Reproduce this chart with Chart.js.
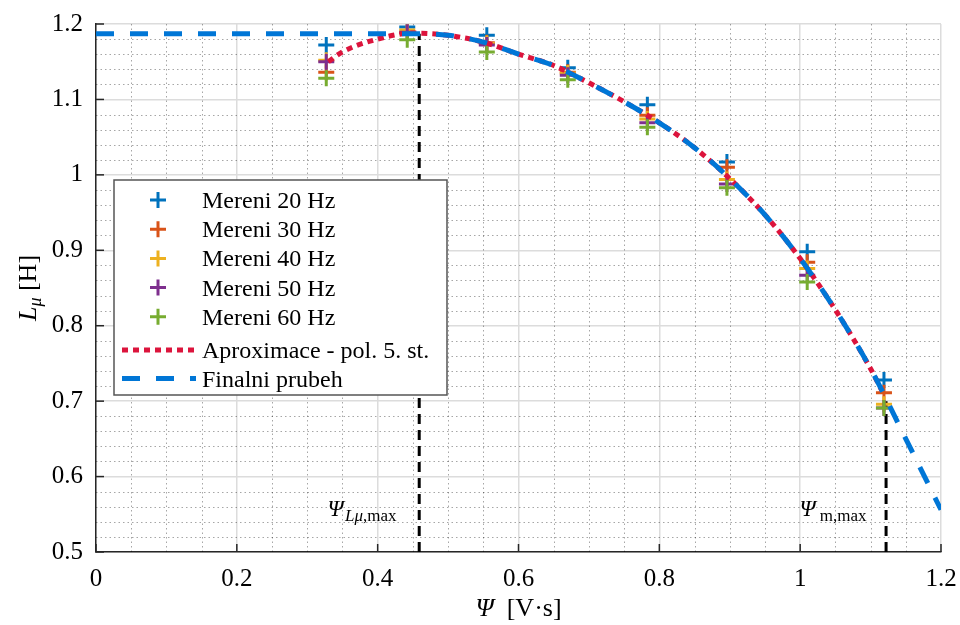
<!DOCTYPE html>
<html lang="cs">

<head>
    <meta charset="UTF-8" />
    <title>L_mu v zavislosti na Psi</title>
    <script src="https://cdn.jsdelivr.net/npm/chart.js"></script>
    <style>
        body { margin: 0; background: #fff; }
        #box { width: 960px; height: 625px; position: relative; }
    </style>
</head>

<body>
    <div id="box"><canvas id="graf"></canvas></div>

    <script>
        // namerene body (Psi v V.s, L_mu v H)
        const psiMereni = [0.327, 0.442, 0.555, 0.670, 0.783, 0.896, 1.010, 1.119];
        const L20 = [1.172, 1.196, 1.185, 1.142, 1.093, 1.017, 0.898, 0.728];
        const L30 = [1.136, 1.188, 1.175, 1.136, 1.079, 1.010, 0.884, 0.711];
        const L40 = [1.152, 1.192, 1.174, 1.135, 1.074, 0.994, 0.876, 0.696];
        const L50 = [1.150, 1.189, 1.172, 1.132, 1.069, 0.988, 0.867, 0.691];
        const L60 = [1.128, 1.179, 1.163, 1.126, 1.063, 0.983, 0.858, 0.691];

        // aproximace polynomem 5. stupne
        const psiAprox = [0.330, 0.35, 0.40, 0.45, 0.50, 0.55, 0.60, 0.65, 0.70, 0.75, 0.80, 0.85, 0.90, 0.95, 1.00, 1.05, 1.10, 1.116];
        const LAprox = [1.150, 1.163, 1.180, 1.188, 1.185, 1.176, 1.160, 1.145, 1.122, 1.097, 1.069, 1.036, 0.995, 0.947, 0.889, 0.821, 0.743, 0.714];

        // finalni prubeh
        const psiFinal = [0, 0.459, 0.50, 0.55, 0.60, 0.65, 0.70, 0.75, 0.80, 0.85, 0.90, 0.95, 1.00, 1.05, 1.10, 1.15, 1.20];
        const LFinal = [1.187, 1.187, 1.185, 1.176, 1.160, 1.145, 1.122, 1.097, 1.069, 1.036, 0.995, 0.947, 0.889, 0.821, 0.743, 0.650, 0.556];

        // svisle znacky
        const psiLmax = 0.459;
        const LLmax = 1.187;
        const psiMmax = 1.122;
        const LMmax = 0.70;

        const xTicks = [0, 0.2, 0.4, 0.6, 0.8, 1, 1.2];
        const yTicks = [0.5, 0.6, 0.7, 0.8, 0.9, 1, 1.1, 1.2];

        const serif = "'Liberation Serif', 'DejaVu Serif', serif";

        function body(xs, ys) {
            return xs.map((x, i) => ({ x: x, y: ys[i] }));
        }

        function mereni(label, ys, color, order) {
            return {
                label: label, data: body(psiMereni, ys), showLine: false,
                pointStyle: 'cross', pointRadius: 8, pointHoverRadius: 8,
                pointBorderWidth: 3, borderColor: color, backgroundColor: color, order: order
            };
        }

        function svisla(x, yTop) {
            return {
                label: '', data: [{ x: x, y: 0.5 }, { x: x, y: yTop }], showLine: true,
                borderColor: '#000', borderWidth: 3, borderDash: [10, 6], pointRadius: 0, order: 20, legenda: false
            };
        }

        function rich(ctx, parts, x, y) {
            let w = 0;
            parts.forEach(p => { ctx.font = p.font; w += ctx.measureText(p.t).width; });
            let cx = x - w / 2;
            parts.forEach(p => {
                ctx.font = p.font;
                ctx.fillText(p.t, cx, y + (p.dy || 0));
                cx += ctx.measureText(p.t).width;
            });
        }

        function popisek(v) {
            return String(Number(v.toFixed(2)));
        }

        // jemna mrizka + dovnitr otocene carky
        const mrizka = {
            id: 'mrizka',
            beforeDatasetsDraw(chart) {
                const { ctx, chartArea: a, scales: { x, y } } = chart;
                ctx.save();
                ctx.strokeStyle = 'rgba(0,0,0,0.35)';
                ctx.lineWidth = 1;
                ctx.setLineDash([1.5, 3]);
                for (let i = 1; i < 24; i++) {
                    if (i % 4 === 0) continue;
                    const px = Math.round(x.getPixelForValue(i * 0.05)) + 0.5;
                    ctx.beginPath(); ctx.moveTo(px, a.top); ctx.lineTo(px, a.bottom); ctx.stroke();
                }
                for (let i = 1; i < 35; i++) {
                    if (i % 5 === 0) continue;
                    const py = Math.round(y.getPixelForValue(0.5 + i * 0.02)) + 0.5;
                    ctx.beginPath(); ctx.moveTo(a.left, py); ctx.lineTo(a.right, py); ctx.stroke();
                }
                ctx.setLineDash([]);
                ctx.strokeStyle = '#262626';
                ctx.lineWidth = 1.5;
                xTicks.forEach(v => {
                    const px = x.getPixelForValue(v);
                    ctx.beginPath(); ctx.moveTo(px, a.bottom); ctx.lineTo(px, a.bottom - 8); ctx.stroke();
                });
                yTicks.forEach(v => {
                    const py = y.getPixelForValue(v);
                    ctx.beginPath(); ctx.moveTo(a.left, py); ctx.lineTo(a.left + 8, py); ctx.stroke();
                });
                ctx.restore();
            },
            afterDraw(chart) {
                const { ctx, chartArea: a } = chart;
                ctx.save();
                ctx.fillStyle = '#000';
                ctx.textBaseline = 'alphabetic';

                // popisky os
                rich(ctx, [
                    { t: 'Ψ', font: 'italic 26px ' + serif },
                    { t: '  [V·s]', font: '26px ' + serif }
                ], (a.left + a.right) / 2, 616);
                ctx.save();
                ctx.translate(36, (a.top + a.bottom) / 2);
                ctx.rotate(-Math.PI / 2);
                rich(ctx, [
                    { t: 'L', font: 'italic 26px ' + serif },
                    { t: 'μ', font: 'italic 18px ' + serif, dy: 5 },
                    { t: ' [H]', font: '26px ' + serif }
                ], 0, 0);
                ctx.restore();

                // znacky Psi
                rich(ctx, [
                    { t: 'Ψ', font: 'italic 23px ' + serif },
                    { t: ' ', font: '6px ' + serif },
                    { t: 'Lμ', font: 'italic 17px ' + serif, dy: 5 },
                    { t: ',max', font: '17px ' + serif, dy: 5 }
                ], 362, 516);
                rich(ctx, [
                    { t: 'Ψ', font: 'italic 23px ' + serif },
                    { t: ' m,max', font: '17px ' + serif, dy: 5 }
                ], 833, 516);

                // legenda
                const L = { x: 114, y: 180, w: 333, h: 215 };
                ctx.fillStyle = '#fff';
                ctx.fillRect(L.x, L.y, L.w, L.h);
                ctx.strokeStyle = '#555';
                ctx.lineWidth = 1.5;
                ctx.strokeRect(L.x, L.y, L.w, L.h);
                const polozky = chart.data.datasets.filter(d => d.legenda !== false)
                    .sort((p, q) => p.poradi - q.poradi);
                polozky.forEach((d, i) => {
                    const cy = i < 5 ? 200 + i * 29.2 : 350 + (i - 5) * 28.5;
                    ctx.strokeStyle = d.borderColor;
                    if (d.showLine) {
                        ctx.lineWidth = d.borderWidth;
                        ctx.setLineDash(d.borderDash);
                        ctx.beginPath(); ctx.moveTo(122, cy); ctx.lineTo(196, cy); ctx.stroke();
                        ctx.setLineDash([]);
                    } else {
                        ctx.lineWidth = 3;
                        ctx.beginPath();
                        ctx.moveTo(150, cy); ctx.lineTo(166, cy);
                        ctx.moveTo(158, cy - 8); ctx.lineTo(158, cy + 8);
                        ctx.stroke();
                    }
                    ctx.fillStyle = '#000';
                    ctx.font = '24px ' + serif;
                    ctx.textAlign = 'left';
                    ctx.fillText(d.label, 202, cy + 8);
                });
                ctx.restore();
            }
        };

        const datasets = [
            Object.assign({
                label: 'Finalni prubeh', data: body(psiFinal, LFinal), showLine: true,
                borderColor: '#0076D6', borderWidth: 5, borderDash: [18, 16], pointRadius: 0,
                cubicInterpolationMode: 'monotone', order: 0
            }, { poradi: 6 }),
            Object.assign({
                label: 'Aproximace - pol. 5. st.', data: body(psiAprox, LAprox), showLine: true,
                borderColor: '#DC143C', borderWidth: 5, borderDash: [6, 5], pointRadius: 0,
                cubicInterpolationMode: 'monotone', order: 1
            }, { poradi: 5 }),
            Object.assign(mereni('Mereni 60 Hz', L60, '#77AC30', 2), { poradi: 4 }),
            Object.assign(mereni('Mereni 50 Hz', L50, '#7E2F8E', 3), { poradi: 3 }),
            Object.assign(mereni('Mereni 40 Hz', L40, '#EDB120', 4), { poradi: 2 }),
            Object.assign(mereni('Mereni 30 Hz', L30, '#D95319', 5), { poradi: 1 }),
            Object.assign(mereni('Mereni 20 Hz', L20, '#0072BD', 6), { poradi: 0 }),
            svisla(psiLmax, LLmax),
            svisla(psiMmax, LMmax)
        ];

        const graf = new Chart(document.getElementById('graf'), {
            type: 'scatter',
            data: { datasets: datasets },
            options: {
                responsive: true,
                maintainAspectRatio: false,
                animation: false,
                layout: { padding: { top: 24, right: 19, left: 0, bottom: 0 } },
                plugins: { legend: { display: false }, tooltip: { enabled: false } },
                scales: {
                    x: {
                        type: 'linear', min: 0, max: 1.2,
                        afterBuildTicks: s => { s.ticks = xTicks.map(v => ({ value: v })); },
                        afterFit: s => { s.height = 73; s.paddingLeft = 0; s.paddingRight = 0; },
                        ticks: { color: '#000', font: { family: serif, size: 25 }, padding: 12, maxRotation: 0, callback: popisek },
                        grid: { color: '#dcdcdc', lineWidth: 1.5, drawTicks: false },
                        border: { color: '#262626', width: 1.5 }
                    },
                    y: {
                        type: 'linear', min: 0.5, max: 1.2,
                        afterBuildTicks: s => { s.ticks = yTicks.map(v => ({ value: v })); },
                        afterFit: s => { s.width = 96; s.paddingTop = 0; s.paddingBottom = 0; },
                        ticks: { color: '#000', font: { family: serif, size: 25 }, padding: 13, callback: popisek },
                        grid: { color: '#dcdcdc', lineWidth: 1.5, drawTicks: false },
                        border: { color: '#262626', width: 1.5 }
                    }
                }
            },
            plugins: [mrizka]
        });
    </script>
</body>

</html>
